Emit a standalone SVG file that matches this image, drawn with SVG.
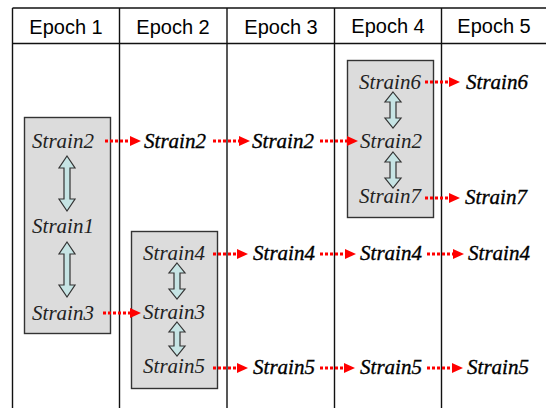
<svg xmlns="http://www.w3.org/2000/svg" width="546" height="408" viewBox="0 0 546 408">
<style>
.grid{stroke:#111;stroke-width:1.4;fill:none}
.hdr{font-family:"Liberation Sans",Arial,sans-serif;font-size:20px;fill:#000;text-anchor:middle}
.box{fill:#dcdcdc;stroke:#333;stroke-width:1.4}
.in{font-family:'Liberation Serif','DejaVu Serif',serif;font-style:italic;font-size:21px;fill:#222;text-anchor:middle}
.out{font-family:'Liberation Serif','DejaVu Serif',serif;font-style:italic;font-size:21px;fill:#000;text-anchor:middle;stroke:#000;stroke-width:0.35}
.dbl{fill:#c6e4e4;stroke:#333;stroke-width:1.2}
.arr{stroke:#ff0000;stroke-width:3;stroke-dasharray:3,2;fill:none}
</style>
<defs>
<marker id="ah" markerUnits="userSpaceOnUse" markerWidth="12" markerHeight="10" refX="0" refY="5" orient="auto">
<path d="M0,0 L11,5 L0,10 Z" fill="#ff0000"/>
</marker>
</defs>
<rect width="546" height="408" fill="#fff"/>
<g id="table">
<line class="grid" x1="12.5" y1="8" x2="546" y2="8"/>
<line class="grid" x1="12.5" y1="43.5" x2="546" y2="43.5"/>
<line class="grid" x1="12.5" y1="8" x2="12.5" y2="408"/>
<line class="grid" x1="119.5" y1="8" x2="119.5" y2="408"/>
<line class="grid" x1="227" y1="8" x2="227" y2="408"/>
<line class="grid" x1="334.5" y1="8" x2="334.5" y2="408"/>
<line class="grid" x1="441.5" y1="8" x2="441.5" y2="408"/>
<text class="hdr" x="66" y="34">Epoch 1</text>
<text class="hdr" x="173" y="34">Epoch 2</text>
<text class="hdr" x="281" y="34">Epoch 3</text>
<text class="hdr" x="388" y="33">Epoch 4</text>
<text class="hdr" x="494" y="33">Epoch 5</text>
</g>
<g id="group1">
<rect class="box" x="24.5" y="117.5" width="86" height="216"/>
<text class="in" x="63" y="148">Strain2</text>
<text class="in" x="63" y="233">Strain1</text>
<text class="in" x="63" y="320">Strain3</text>
<path class="dbl" d="M67,156 L75,168 L70,168 L70,199 L75,199 L67,211 L59,199 L64,199 L64,168 L59,168 Z"/>
<path class="dbl" d="M67,242 L75,254 L70,254 L70,285 L75,285 L67,297 L59,285 L64,285 L64,254 L59,254 Z"/>
</g>
<g id="group2">
<rect class="box" x="131.5" y="231.5" width="86" height="157"/>
<text class="in" x="174" y="260">Strain4</text>
<text class="in" x="174" y="319">Strain3</text>
<text class="in" x="174" y="373">Strain5</text>
<path class="dbl" d="M177,263 L185,273 L180,273 L180,289 L185,289 L177,299 L169,289 L174,289 L174,273 L169,273 Z"/>
<path class="dbl" d="M177,322 L185,332 L180,332 L180,346 L185,346 L177,356 L169,346 L174,346 L174,332 L169,332 Z"/>
</g>
<g id="group4">
<rect class="box" x="347.5" y="60.5" width="86" height="157"/>
<text class="in" x="390" y="89">Strain6</text>
<text class="in" x="391" y="148">Strain2</text>
<text class="in" x="390" y="203">Strain7</text>
<path class="dbl" d="M393,92 L401,102 L396,102 L396,118 L401,118 L393,128 L385,118 L390,118 L390,102 L385,102 Z"/>
<path class="dbl" d="M393,152 L401,162 L396,162 L396,178 L401,178 L393,188 L385,178 L390,178 L390,162 L385,162 Z"/>
</g>
<g id="labels">
<text class="out" x="175" y="148">Strain2</text>
<text class="out" x="283" y="148">Strain2</text>
<text class="out" x="284" y="260">Strain4</text>
<text class="out" x="391" y="260">Strain4</text>
<text class="out" x="499" y="260">Strain4</text>
<text class="out" x="284" y="374">Strain5</text>
<text class="out" x="391" y="374">Strain5</text>
<text class="out" x="498" y="374">Strain5</text>
<text class="out" x="497" y="89">Strain6</text>
<text class="out" x="496" y="204">Strain7</text>
</g>
<g id="connectors">
<line class="arr" x1="105" y1="141" x2="130" y2="141" marker-end="url(#ah)"/>
<line class="arr" x1="213" y1="141" x2="239" y2="141" marker-end="url(#ah)"/>
<line class="arr" x1="320" y1="141" x2="347" y2="141" marker-end="url(#ah)"/>
<line class="arr" x1="425" y1="82" x2="449" y2="82" marker-end="url(#ah)"/>
<line class="arr" x1="425" y1="198" x2="449" y2="198" marker-end="url(#ah)"/>
<line class="arr" x1="213" y1="254" x2="237" y2="254" marker-end="url(#ah)"/>
<line class="arr" x1="320" y1="254" x2="345" y2="254" marker-end="url(#ah)"/>
<line class="arr" x1="427" y1="254" x2="453" y2="254" marker-end="url(#ah)"/>
<line class="arr" x1="103" y1="313" x2="130" y2="313" marker-end="url(#ah)"/>
<line class="arr" x1="213" y1="368" x2="237" y2="368" marker-end="url(#ah)"/>
<line class="arr" x1="320" y1="368" x2="344" y2="368" marker-end="url(#ah)"/>
<line class="arr" x1="427" y1="368" x2="452" y2="368" marker-end="url(#ah)"/>
</g>
</svg>
